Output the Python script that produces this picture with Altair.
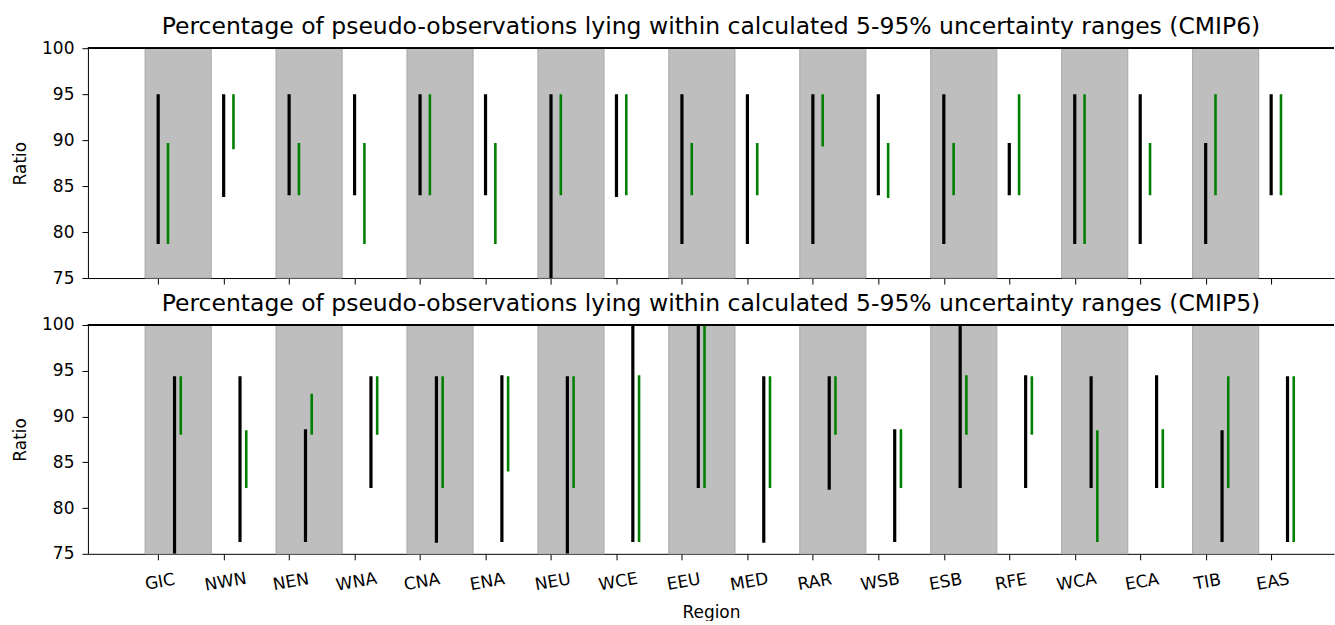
import altair as alt
import pandas as pd

# Regions along the x axis
regions = ["GIC", "NWN", "NEN", "WNA", "CNA", "ENA", "NEU", "WCE", "EEU",
           "MED", "RAR", "WSB", "ESB", "RFE", "WCA", "ECA", "TIB", "EAS"]

# CMIP6: black and green 5-95% ranges (percent)
cmip6_black_lo = [78.7, 83.8, 84.0, 84.0, 84.0, 84.0, 75.0, 83.8, 78.7,
                  78.7, 78.7, 84.0, 78.7, 84.0, 78.7, 78.7, 78.7, 84.0]
cmip6_black_hi = [95.0, 95.0, 95.0, 95.0, 95.0, 95.0, 95.0, 95.0, 95.0,
                  95.0, 95.0, 95.0, 95.0, 89.7, 95.0, 95.0, 89.7, 95.0]
cmip6_green_lo = [78.7, 89.0, 84.0, 78.7, 84.0, 78.7, 84.0, 84.0, 84.0,
                  84.0, 89.3, 83.7, 84.0, 84.0, 78.7, 84.0, 84.0, 84.0]
cmip6_green_hi = [89.7, 95.0, 89.7, 89.7, 95.0, 89.7, 95.0, 95.0, 89.7,
                  89.7, 95.0, 89.7, 89.7, 95.0, 95.0, 89.7, 95.0, 95.0]

# CMIP5: black and green 5-95% ranges (percent)
cmip5_black_lo = [75.0, 76.3, 76.3, 82.2, 76.2, 76.3, 75.0, 76.3, 82.2,
                  76.2, 82.0, 76.3, 82.2, 82.2, 82.2, 82.2, 76.3, 76.3]
cmip5_black_hi = [94.4, 94.4, 88.6, 94.4, 94.4, 94.5, 94.4, 100.0, 100.0,
                  94.4, 94.4, 88.6, 100.0, 94.5, 94.4, 94.5, 88.5, 94.4]
cmip5_green_lo = [88.0, 82.2, 88.0, 88.0, 82.2, 84.0, 82.2, 76.3, 82.2,
                  82.2, 88.0, 82.2, 88.0, 88.0, 76.3, 82.2, 82.2, 76.3]
cmip5_green_hi = [94.4, 88.5, 92.5, 94.4, 94.4, 94.4, 94.4, 94.5, 100.0,
                  94.4, 94.4, 88.6, 94.5, 94.4, 88.5, 88.6, 94.4, 94.4]

titles = [
    "Percentage of pseudo-observations lying within calculated 5-95% uncertainty ranges (CMIP6)",
    "Percentage of pseudo-observations lying within calculated 5-95% uncertainty ranges (CMIP5)",
]

FONT = "DejaVu Sans"
W, H = 1247, 230
idx = list(range(len(regions)))
x_scale = alt.Scale(domain=[-1.073, 17.96], nice=False, zero=False)
y_scale = alt.Scale(domain=[75, 100], nice=False, zero=False)

bands = pd.DataFrame({
    "x0": [i - 0.2 for i in idx if i % 2 == 0],
    "x1": [i + 0.81 for i in idx if i % 2 == 0],
})

label_expr = "[" + ",".join(f"'{r}'" for r in regions) + "][datum.value]"


def panel(title, b_lo, b_hi, g_lo, g_hi, off_b, off_g, show_labels, height):
    if show_labels:
        x_axis = alt.Axis(values=idx, labelExpr=label_expr, title="Region",
                          labelAngle=350, labelAlign="center", labelBaseline="top",
                          labelPadding=14, titlePadding=11, tickSize=6)
    else:
        x_axis = alt.Axis(values=idx, labels=False, title=None, tickSize=6)
    y_axis = alt.Axis(values=[75, 80, 85, 90, 95, 100], title="Ratio",
                      tickSize=6, labelPadding=8, titlePadding=12)

    black = pd.DataFrame({"x": [i + off_b for i in idx], "lo": b_lo, "hi": b_hi})
    green = pd.DataFrame({"x": [i + off_g for i in idx], "lo": g_lo, "hi": g_hi})

    band_layer = alt.Chart(bands).mark_rect(
        fill="#bebebe", stroke="#a9a9a9", strokeWidth=1
    ).encode(
        x=alt.X("x0:Q", scale=x_scale, axis=x_axis),
        x2="x1:Q",
        y=alt.datum(75, scale=y_scale, axis=y_axis),
        y2=alt.datum(100),
    )
    black_layer = alt.Chart(black).mark_rule(
        color="black", strokeWidth=3.2, clip=True
    ).encode(
        x=alt.X("x:Q", scale=x_scale),
        y=alt.Y("lo:Q", scale=y_scale),
        y2="hi:Q",
    )
    green_layer = alt.Chart(green).mark_rule(
        color="#008000", strokeWidth=2.6, clip=True
    ).encode(
        x=alt.X("x:Q", scale=x_scale),
        y=alt.Y("lo:Q", scale=y_scale),
        y2="hi:Q",
    )
    top_spine = alt.Chart(bands).mark_rule(color="black", strokeWidth=1).encode(
        y=alt.datum(100)
    )
    return alt.layer(band_layer, black_layer, green_layer, top_spine).properties(
        width=W, height=height,
        title=alt.TitleParams(title, fontSize=23.5, font=FONT, fontWeight="normal",
                              color="black", offset=1, anchor="middle"),
    )


top = panel(titles[0], cmip6_black_lo, cmip6_black_hi, cmip6_green_lo, cmip6_green_hi,
            0.0, 0.15, False, H)
bottom = panel(titles[1], cmip5_black_lo, cmip5_black_hi, cmip5_green_lo, cmip5_green_hi,
               0.25, 0.345, True, H - 1)

chart = alt.vconcat(top, bottom, spacing=5).properties(
    padding={"left": 11, "top": 14, "right": 0, "bottom": 0}
).configure_view(stroke=None).configure_axis(
    grid=False,
    domainColor="black",
    tickColor="black",
    labelColor="black",
    titleColor="black",
    labelFont=FONT,
    titleFont=FONT,
    labelFontSize=17,
    titleFontSize=17,
    titleFontWeight="normal",
)

chart.save("out.html", embed_options={"renderer": "svg", "actions": False})
